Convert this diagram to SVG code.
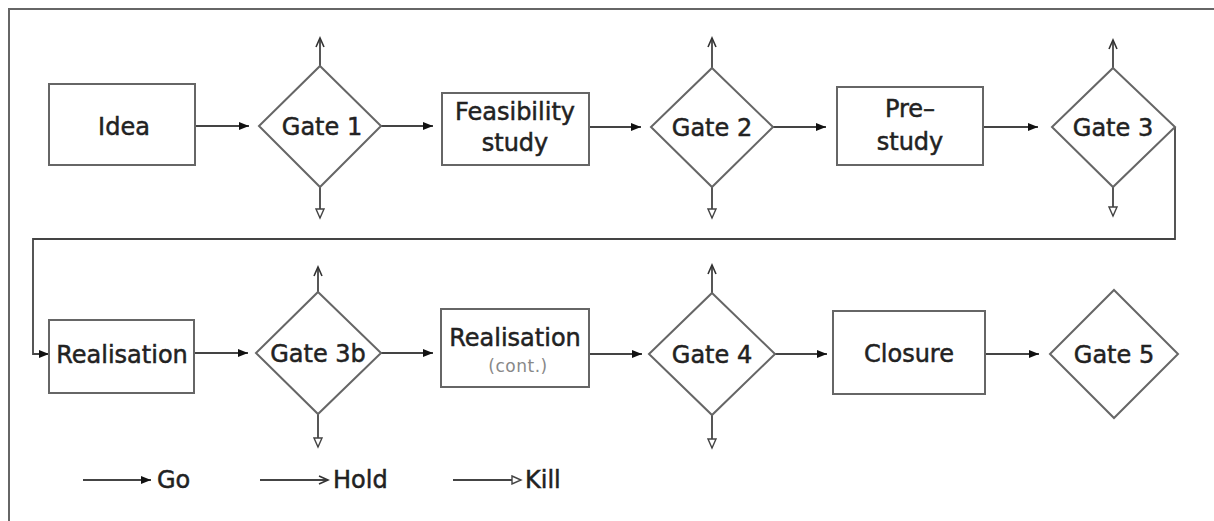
<svg xmlns="http://www.w3.org/2000/svg" width="1214" height="521" viewBox="0 0 1214 521">
<style>
.box{fill:#fff;stroke:#666;stroke-width:2}
.gate{fill:#fff;stroke:#666;stroke-width:2}
.t{font-family:"DejaVu Sans",Verdana,sans-serif;font-size:24px;fill:#222;stroke:#222;stroke-width:0.5;text-anchor:middle}
.small{font-family:"DejaVu Sans",Verdana,sans-serif;font-size:17px;fill:#888;letter-spacing:0.5px;text-anchor:middle}
.lg{font-family:"DejaVu Sans",Verdana,sans-serif;font-size:24px;fill:#222;stroke:#222;stroke-width:0.5}
.c{fill:none;stroke:#444;stroke-width:1.8}
.go{marker-end:url(#mGo)}
.hold{marker-end:url(#mHold)}
.kill{marker-end:url(#mKill)}
</style>
<defs>
<marker id="mGo" markerUnits="userSpaceOnUse" markerWidth="12" markerHeight="10" refX="11" refY="5" orient="auto">
<path d="M1,1 L11,5 L1,9 z" fill="#111"/>
</marker>
<marker id="mHold" markerUnits="userSpaceOnUse" markerWidth="12" markerHeight="10" refX="10" refY="5" orient="auto">
<path d="M1,1 L10,5 L1,9" fill="none" stroke="#333" stroke-width="1.6"/>
</marker>
<marker id="mKill" markerUnits="userSpaceOnUse" markerWidth="12" markerHeight="10" refX="10" refY="5" orient="auto">
<path d="M1,1 L10,5 L1,9 z" fill="#fff" stroke="#444" stroke-width="1.4"/>
</marker>
</defs>
<rect x="0" y="0" width="1214" height="521" fill="#fff"/>
<rect x="9" y="9" width="1230" height="540" fill="none" stroke="#666" stroke-width="2"/>

<g id="connectors">
<path class="c go" d="M195,126 H249"/>
<path class="c go" d="M381,126 H433"/>
<path class="c go" d="M589,127 H641"/>
<path class="c go" d="M773,127 H826"/>
<path class="c go" d="M984,127 H1038"/>
<path class="c go" d="M1175,127 V239 H33 V354 H49"/>
<path class="c go" d="M194,353 H248"/>
<path class="c go" d="M381,353 H433"/>
<path class="c go" d="M589,354 H642"/>
<path class="c go" d="M775,354 H827"/>
<path class="c go" d="M985,354 H1039"/>
<path class="c hold" d="M320,66 V38"/>
<path class="c kill" d="M320,187 V218"/>
<path class="c hold" d="M712,68 V38"/>
<path class="c kill" d="M712,187 V218"/>
<path class="c hold" d="M1113,68 V40"/>
<path class="c kill" d="M1113,187 V216"/>
<path class="c hold" d="M318,292 V267"/>
<path class="c kill" d="M318,414 V447"/>
<path class="c hold" d="M712,293 V265"/>
<path class="c kill" d="M712,415 V448"/>
</g>

<g id="idea"><rect class="box" x="49" y="84" width="146" height="81"/><text class="t" x="124" y="135">Idea</text></g>
<g id="gate1"><polygon class="gate" points="320,66 381,126 320,187 259,126"/><text class="t" x="322" y="135">Gate 1</text></g>
<g id="feasibility"><rect class="box" x="442" y="93" width="147" height="72"/><text class="t" x="515" y="120">Feasibility</text><text class="t" x="515" y="151">study</text></g>
<g id="gate2"><polygon class="gate" points="712,68 773,127 712,187 651,127"/><text class="t" x="712" y="136">Gate 2</text></g>
<g id="prestudy"><rect class="box" x="837" y="87" width="146" height="78"/><text class="t" x="910" y="117">Pre–</text><text class="t" x="910" y="150">study</text></g>
<g id="gate3"><polygon class="gate" points="1113,68 1175,127 1113,187 1052,127"/><text class="t" x="1113" y="136">Gate 3</text></g>
<g id="realisation"><rect class="box" x="49" y="320" width="145" height="73"/><text class="t" x="122" y="363">Realisation</text></g>
<g id="gate3b"><polygon class="gate" points="318,292 381,353 318,414 256,353"/><text class="t" x="318" y="362">Gate 3b</text></g>
<g id="realisation-cont"><rect class="box" x="441" y="309" width="148" height="78"/><text class="t" x="515" y="346">Realisation</text><text class="small" x="518" y="372">(cont.)</text></g>
<g id="gate4"><polygon class="gate" points="712,293 775,354 712,415 649,354"/><text class="t" x="712" y="363">Gate 4</text></g>
<g id="closure"><rect class="box" x="833" y="311" width="152" height="83"/><text class="t" x="909" y="362">Closure</text></g>
<g id="gate5"><polygon class="gate" points="1114,290 1178,354 1114,418 1050,354"/><text class="t" x="1114" y="363">Gate 5</text></g>

<g id="legend">
<path class="c go" d="M83,480 H151"/><text class="lg" x="157" y="488">Go</text>
<path class="c hold" d="M260,480 H328"/><text class="lg" x="333" y="488">Hold</text>
<path class="c kill" d="M453,480 H521"/><text class="lg" x="525" y="488">Kill</text>
</g>
</svg>
